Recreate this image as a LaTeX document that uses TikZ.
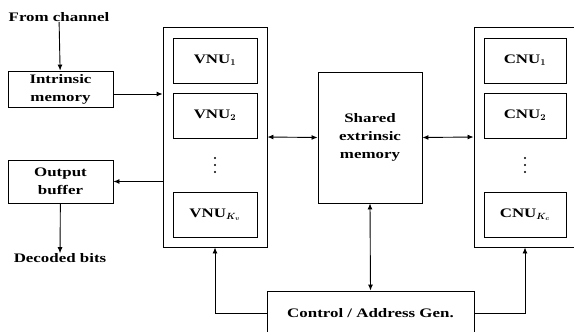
\documentclass[tikz,border=0pt]{standalone}
\usepackage{fontspec}
\setmainfont{Liberation Serif}[FakeStretch=1.3]
\usetikzlibrary{arrows.meta,calc}
\begin{document}
\begin{tikzpicture}[x=1pt,y=-1pt,
  every node/.style={font=\fontsize{13}{18}\selectfont\bfseries\boldmath},
  blk/.style={draw, line width=0.9pt, inner sep=0pt, align=center},
  lbl/.style={inner sep=0pt},
  dotc/.style={inner sep=0pt, minimum size=4pt},
  arr/.style={line width=0.9pt, -{Latex[length=6pt,width=5pt]}},
  dbl/.style={line width=0.9pt, {Latex[length=6pt,width=5pt]}-{Latex[length=6pt,width=5pt]}}]
\clip (0,0) rectangle (574,332);
\useasboundingbox (0,0) rectangle (574,332);
% left column
\node[lbl] (fromch) at (59,17) {From channel};
\node[blk, minimum width=105pt, minimum height=36pt] (intr) at (60.5,89) {Intrinsic\\memory};
\node[blk, minimum width=105pt, minimum height=43pt] (outb) at (60.5,181.5) {Output\\buffer};
\node[lbl] (dec) at (60,258) {Decoded bits};
% VNU group
\node[blk, minimum width=104pt, minimum height=220pt] (vnuo) at (215,137) {};
\node[blk, minimum width=84pt, minimum height=45pt] (vnu1) at (215,60.5) {VNU$_1$};
\node[blk, minimum width=84pt, minimum height=45pt] (vnu2) at (215,115.5) {VNU$_2$};
\node[dotc] (vdots) at (215,165) {};
\fill (vdots.center) circle (1.1pt) ++(0,-7) circle (1.1pt) ++(0,14) circle (1.1pt);
\node[blk, minimum width=84pt, minimum height=45pt] (vnuk) at (215,214.5) {VNU$_{K_v}$};
% shared memory
\node[blk, minimum width=104pt, minimum height=131pt] (shared) at (370,137.5) {Shared\\extrinsic\\memory};
% CNU group
\node[blk, minimum width=106pt, minimum height=220pt] (cnuo) at (527,137) {};
\node[blk, minimum width=82pt, minimum height=45pt] (cnu1) at (525,60.5) {CNU$_1$};
\node[blk, minimum width=82pt, minimum height=45pt] (cnu2) at (525,115.5) {CNU$_2$};
\node[dotc] (cdots) at (525,165) {};
\fill (cdots.center) circle (1.1pt) ++(0,-7) circle (1.1pt) ++(0,14) circle (1.1pt);
\node[blk, minimum width=82pt, minimum height=45pt] (cnuk) at (525,214.5) {CNU$_{K_c}$};
% control
\node[blk, minimum width=207pt, minimum height=44pt] (ctrl) at (370.5,313) {Control / Address Gen.};
% connectors
\coordinate (a1) at (113,94);
\draw[arr] (fromch) -- (intr);
\draw[arr] (a1) -- (a1 -| vnuo.west);
\draw[arr] (vnuo.west |- outb) -- (outb.east);
\draw[arr] (outb) -- (dec);
\draw[dbl] (vnuo.east) -- (shared.west);
\draw[dbl] (shared.east) -- (cnuo.west);
\draw[dbl] (shared.south) -- (ctrl.north);
\draw[arr] (ctrl.west) -| (vnuo.south);
\draw[arr] (ctrl.east) -| (cnu1 |- cnuo.south);
\end{tikzpicture}
\end{document}
